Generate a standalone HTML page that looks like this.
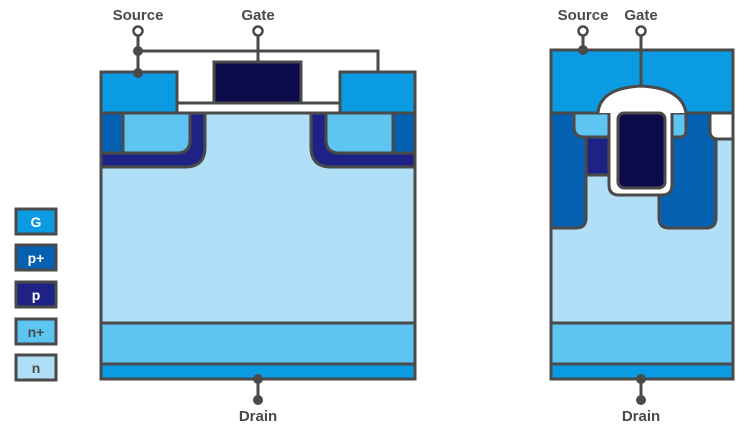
<!DOCTYPE html>
<html><head><meta charset="utf-8"><style>
html,body{margin:0;padding:0;background:#fff;}
svg{display:block;}
text{font-family:"Liberation Sans",sans-serif;font-weight:bold;}
</style></head><body>
<svg width="752" height="428" viewBox="0 0 752 428" xmlns="http://www.w3.org/2000/svg">
<g stroke="#4a4a4a" stroke-width="3">
<!-- LEFT DEVICE -->
<rect x="101" y="113" width="314" height="210" fill="#b0dff7"/>
<rect x="101" y="323" width="314" height="41" fill="#5ec4f2"/>
<rect x="101" y="364" width="314" height="15" fill="#0a9be3"/>
<path d="M101,113 H205 V147 Q205,167 185,167 H101 Z" fill="#1e2285"/>
<path d="M123,113 H190 V140 Q190,153 177,153 H123 Z" fill="#5ec4f2"/>
<rect x="101" y="113" width="22" height="40" fill="#0460b0"/>
<path d="M415,113 H311 V147 Q311,167 331,167 H415 Z" fill="#1e2285"/>
<path d="M393,113 H326 V140 Q326,153 339,153 H393 Z" fill="#5ec4f2"/>
<rect x="393" y="113" width="22" height="40" fill="#0460b0"/>
<rect x="177" y="103" width="163" height="10" fill="#fff"/>
<rect x="101" y="72" width="76" height="41" fill="#0a9be3"/>
<rect x="340" y="72" width="75" height="41" fill="#0a9be3"/>
<rect x="214" y="62" width="87" height="41" fill="#0c0a4a"/>
<path d="M138,36 V72 M138,51 H378 V72 M258,36 V62 M258,379 V400" fill="none"/>
<!-- RIGHT DEVICE -->
<rect x="551" y="113" width="182" height="210" fill="#b0dff7"/>
<rect x="551" y="323" width="182" height="41" fill="#5ec4f2"/>
<rect x="551" y="364" width="182" height="15" fill="#0a9be3"/>
<path d="M551,113 H586 V218 Q586,228 576,228 H551 Z" fill="#0460b0"/>
<path d="M659,113 H716 V218 Q716,228 706,228 H669 Q659,228 659,218 Z" fill="#0460b0"/>
<rect x="586" y="137" width="26" height="38" fill="#1e2285"/>
<path d="M574,113 H612 V137 H584 Q574,137 574,127 Z" fill="#5ec4f2"/>
<path d="M670,113 H686 V131 Q686,137 680,137 H670 Z" fill="#5ec4f2"/>
<path d="M710,113 H733 V139 H718 Q710,139 710,131 Z" fill="#fff"/>
<rect x="551" y="50" width="182" height="63" fill="#0a9be3"/>
<path d="M598,113 Q600,88 641,86 Q682,88 686,113 H672 V185 Q672,195 662,195 H619 Q609,195 609,185 V113 Z" fill="#fff" stroke="none"/>
<path d="M598,113 Q600,88 641,86 Q682,88 686,113" fill="none"/>
<path d="M609,113 V185 Q609,195 619,195 H662 Q672,195 672,185 V113" fill="none"/>
<rect x="618" y="113" width="47" height="75" rx="6" fill="#0c0a4a"/>
<path d="M583,36 V50 M641,36 V86 M641,379 V400" fill="none"/>
<!-- LEGEND -->
<rect x="16" y="209" width="40" height="25" fill="#0a9be3"/>
<rect x="16" y="245" width="40" height="25" fill="#0460b0"/>
<rect x="16" y="282" width="40" height="25" fill="#1e2285"/>
<rect x="16" y="319" width="40" height="25" fill="#5ec4f2"/>
<rect x="16" y="355" width="40" height="25" fill="#b0dff7"/>
</g>
<g fill="#fff" stroke="#4a4a4a" stroke-width="2.5">
<circle cx="138" cy="31" r="4.5"/><circle cx="258" cy="31" r="4.5"/>
<circle cx="583" cy="31" r="4.5"/><circle cx="641" cy="31" r="4.5"/>
</g>
<g fill="#4a4a4a">
<circle cx="138" cy="51" r="5"/><circle cx="138" cy="73" r="5"/>
<circle cx="258" cy="379" r="5"/><circle cx="258" cy="400" r="5"/>
<circle cx="641" cy="379" r="5"/><circle cx="641" cy="400" r="5"/>
<circle cx="583" cy="50" r="5"/>
</g>
<g fill="#4a4a4a" font-size="15" text-anchor="middle">
<text x="138" y="20">Source</text><text x="258" y="20">Gate</text>
<text x="583" y="20">Source</text><text x="641" y="20">Gate</text>
<text x="258" y="421">Drain</text><text x="641" y="421">Drain</text>
</g>
<g font-size="14" text-anchor="middle">
<text x="36" y="227" fill="#fff">G</text>
<text x="36" y="263" fill="#fff">p+</text>
<text x="36" y="300" fill="#fff">p</text>
<text x="36" y="337" fill="#4a4a4a">n+</text>
<text x="36" y="373" fill="#4a4a4a">n</text>
</g>
</svg>
</body></html>
